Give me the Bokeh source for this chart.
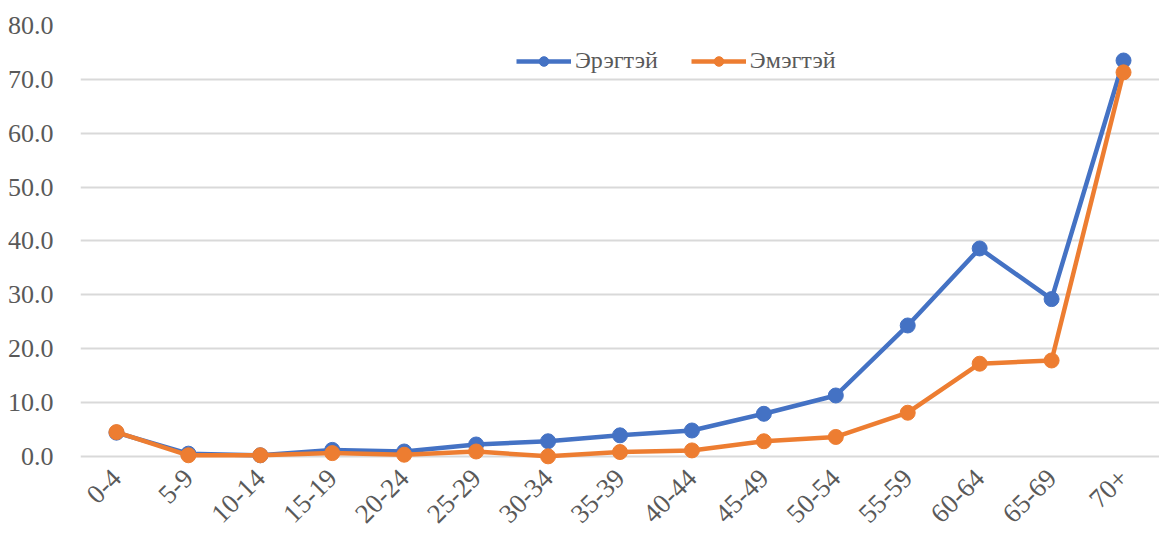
from bokeh.plotting import figure
from bokeh.models import Range1d, FixedTicker, NumeralTickFormatter, Legend, LegendItem
from bokeh.embed import file_html
from bokeh.resources import INLINE
import math

categories = ["0-4", "5-9", "10-14", "15-19", "20-24", "25-29", "30-34", "35-39",
              "40-44", "45-49", "50-54", "55-59", "60-64", "65-69", "70+"]
male = [4.4, 0.5, 0.2, 1.2, 0.9, 2.2, 2.8, 3.9, 4.8, 7.9, 11.3, 24.3, 38.6, 29.2, 73.5]
female = [4.5, 0.2, 0.2, 0.6, 0.3, 0.9, 0.0, 0.8, 1.1, 2.8, 3.6, 8.1, 17.2, 17.8, 71.3]
series_names = ["Эрэгтэй", "Эмэгтэй"]
y_ticks = [0, 10, 20, 30, 40, 50, 60, 70, 80]

FONT = "Liberation Serif"
TXT = "#595959"
BLUE = "#4472C4"
ORANGE = "#ED7D31"

p = figure(x_range=categories, y_range=Range1d(-1.7, 80),
           width=1159, height=533, output_backend="svg", toolbar_location=None,
           min_border_left=80, min_border_right=0, min_border_top=25, min_border_bottom=60)
p.outline_line_color = None
p.background_fill_color = "white"
p.border_fill_color = "white"

p.xgrid.grid_line_color = None
p.ygrid.ticker = FixedTicker(ticks=y_ticks)
p.ygrid.grid_line_color = "#d9d9d9"
p.ygrid.grid_line_width = 2

p.yaxis.ticker = FixedTicker(ticks=y_ticks)
p.yaxis.formatter = NumeralTickFormatter(format="0.0")
p.yaxis.axis_line_color = None
p.yaxis.major_tick_line_color = None
p.yaxis.minor_tick_line_color = None
p.yaxis.major_label_standoff = 21
p.yaxis.major_label_text_font = FONT
p.yaxis.major_label_text_font_size = "26px"
p.yaxis.major_label_text_color = TXT

p.xaxis.axis_line_color = None
p.xaxis.major_tick_line_color = None
p.xaxis.minor_tick_line_color = None
p.xaxis.major_label_orientation = math.pi / 4
p.xaxis.major_label_standoff = 2
p.xaxis.major_label_text_font = FONT
p.xaxis.major_label_text_font_size = "27px"
p.xaxis.major_label_text_color = TXT

items = []
for vals, color, name in [(male, BLUE, series_names[0]), (female, ORANGE, series_names[1])]:
    l = p.line(categories, vals, line_color=color, line_width=4.5)
    s = p.scatter(categories, vals, marker="circle", size=15, fill_color=color, line_color=color)
    items.append(LegendItem(label=name, renderers=[l, s]))

legend = Legend(items=items, orientation="horizontal", location=(436, 391),
                glyph_width=55, glyph_height=24, label_standoff=4, spacing=33,
                padding=0, margin=0, background_fill_alpha=0, border_line_alpha=0,
                label_text_font=FONT, label_text_font_size="24px", label_text_color=TXT)
p.add_layout(legend)

open("out.html", "w").write(file_html(p, INLINE))
